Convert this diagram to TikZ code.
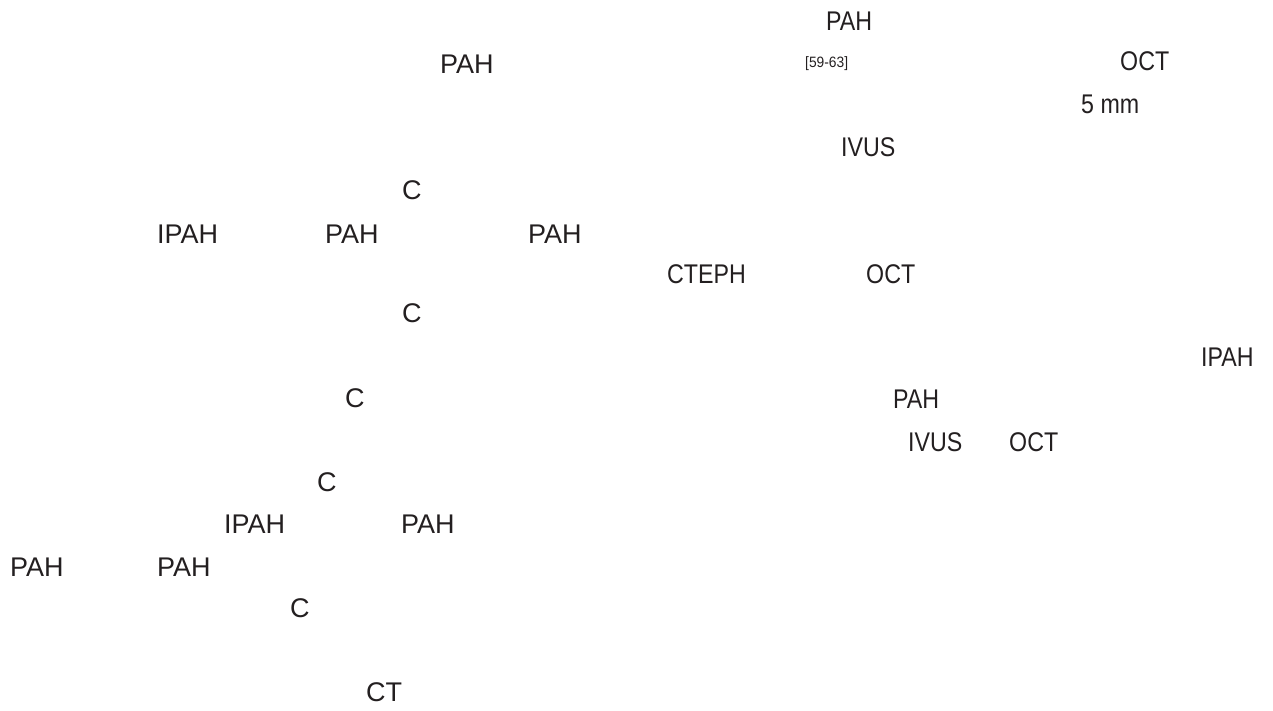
\documentclass[tikz,border=0pt]{standalone}
\usepackage{fontspec}
\setmainfont{Liberation Sans}
\definecolor{ink}{HTML}{231F20}
\tikzset{
  lbl/.style={anchor=base west, inner sep=0pt, text=ink, font=\fontsize{27}{27}\selectfont},
  rlbl/.style={lbl, xscale=0.86},
  ref/.style={anchor=base west, inner sep=0pt, text=ink, font=\fontsize{15}{15}\selectfont, xscale=0.92}
}
\begin{document}
\begin{tikzpicture}[x=1pt, y=-1pt]
\useasboundingbox (0,0) rectangle (1273,710);
% left column
\node[lbl] (l1) at (440,73) {PAH};
\node[lbl] (l2) at (402,199) {C};
\node[lbl] (l3a) at (157,243) {IPAH};
\node[lbl] (l3b) at (325,243) {PAH};
\node[lbl] (l3c) at (528,243) {PAH};
\node[lbl] (l4) at (402,322) {C};
\node[lbl] (l5) at (345,407) {C};
\node[lbl] (l6) at (317,491) {C};
\node[lbl] (l7a) at (224,533) {IPAH};
\node[lbl] (l7b) at (401,533) {PAH};
\node[lbl] (l8a) at (10,576) {PAH};
\node[lbl] (l8b) at (157,576) {PAH};
\node[lbl] (l9) at (290,617) {C};
\node[lbl] (l10) at (366,701) {CT};
% right column
\node[rlbl] (r1) at (826,30) {PAH};
\node[ref] (r2) at (805,67) {[59-63]};
\node[rlbl] (r3) at (1120,70) {OCT};
\node[rlbl] (r4) at (1081,113) {5 mm};
\node[rlbl] (r5) at (841,156) {IVUS};
\node[rlbl] (r6a) at (667,283) {CTEPH};
\node[rlbl] (r6b) at (866,283) {OCT};
\node[rlbl] (r7) at (1201,366) {IPAH};
\node[rlbl] (r8) at (893,408) {PAH};
\node[rlbl] (r9a) at (908,451) {IVUS};
\node[rlbl] (r9b) at (1009,451) {OCT};
\end{tikzpicture}
\end{document}
